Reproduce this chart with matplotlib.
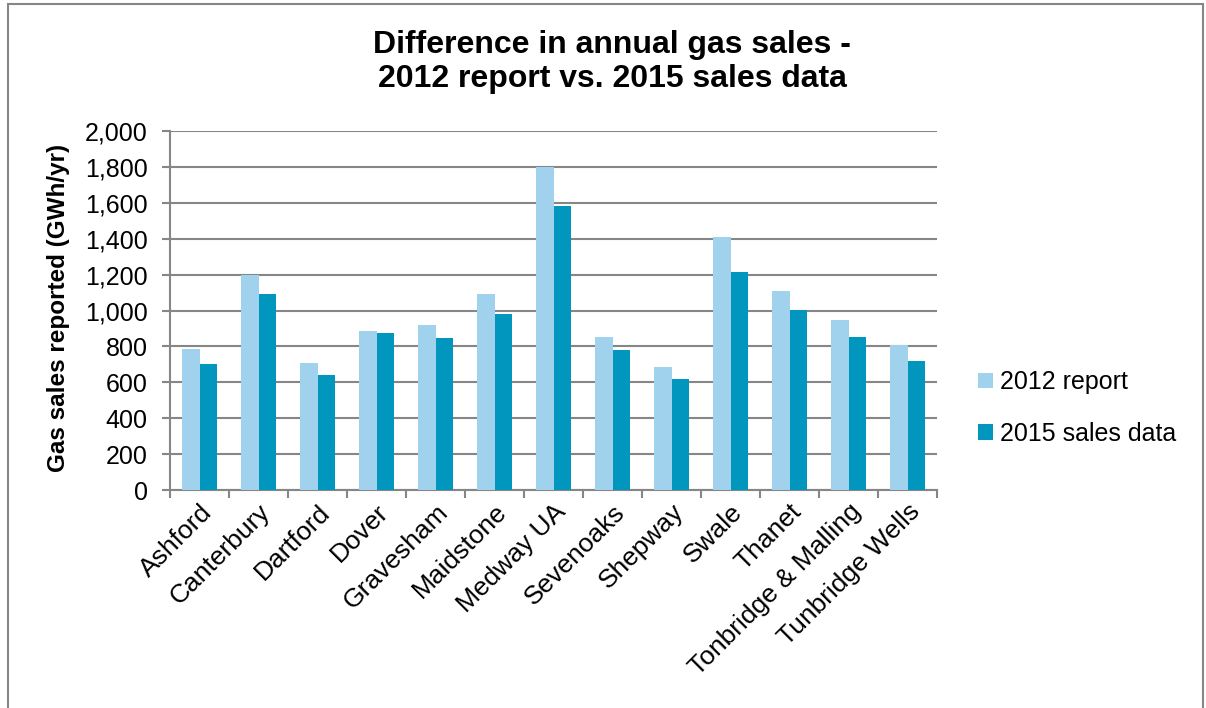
import matplotlib
matplotlib.use("Agg")
import matplotlib.pyplot as plt
import numpy as np
from matplotlib.ticker import FuncFormatter
from matplotlib.patches import Rectangle

districts = ["Ashford", "Canterbury", "Dartford", "Dover", "Gravesham", "Maidstone",
             "Medway UA", "Sevenoaks", "Shepway", "Swale", "Thanet",
             "Tonbridge & Malling", "Tunbridge Wells"]
report_2012 = [788, 1195, 710, 885, 922, 1093, 1800, 855, 686, 1412, 1110, 946, 808]
sales_2015 = [700, 1090, 638, 876, 845, 980, 1580, 779, 621, 1212, 1005, 850, 721]

plt.rcParams['font.family'] = ['Liberation Sans', 'DejaVu Sans']

fig = plt.figure(figsize=(12.06, 7.08), dpi=100)
W, H = 1206, 708
ax = fig.add_axes([170 / W, 1 - 490 / H, (937 - 170) / W, (490 - 131) / H])

# outer chart border
fig.patches.append(Rectangle((8 / W, -0.1), 1195 / W, 1.1 - 4 / H, transform=fig.transFigure,
                             fill=False, edgecolor="#868686", linewidth=1.5))

x = np.arange(len(districts))
w = 0.29
ax.bar(x - w / 2, report_2012, w, color="#a0d2ee", label="2012 report", zorder=3)
ax.bar(x + w / 2, sales_2015, w, color="#0096bd", label="2015 sales data", zorder=3)

ax.set_xlim(-0.5, len(districts) - 0.5)
ax.set_ylim(0, 2000)
ax.set_yticks(np.arange(0, 2001, 200))
ax.yaxis.set_major_formatter(FuncFormatter(lambda v, p: f"{int(v):,}"))
ax.grid(axis="y", color="#868686", linewidth=1.5, zorder=0)

ax.set_xticks(np.arange(-0.5, len(districts), 1))
ax.set_xticklabels([])
ax.set_xticks(x, minor=True)
ax.set_xticklabels(districts, minor=True, rotation=45, ha="right", rotation_mode="anchor",
                   fontsize=19)
ax.tick_params(axis="x", which="minor", length=0, pad=7)
ax.tick_params(axis="x", which="major", length=6, color="#868686", width=1.5)
ax.tick_params(axis="y", length=6, color="#868686", width=1.5, labelsize=18, pad=10)

for s in ["top", "right"]:
    ax.spines[s].set_visible(False)
for s in ["left", "bottom"]:
    ax.spines[s].set_color("#868686")
    ax.spines[s].set_linewidth(1.5)

ax.set_ylabel("Gas sales reported (GWh/yr)", fontsize=17.5, fontweight="bold")
ax.yaxis.set_label_coords(70 / W, 1 - 308 / H, transform=fig.transFigure)
fig.text(612 / W, 1 - 62 / H, "Difference in annual gas sales -\n2012 report vs. 2015 sales data",
         ha="center", va="center", fontsize=23, fontweight="bold", linespacing=1.2)

ax.legend(loc="center left", bbox_to_anchor=(955 / W, 1 - 408 / H), bbox_transform=fig.transFigure,
          frameon=False, fontsize=18, handlelength=0.6, handleheight=0.6, handletextpad=0.3,
          labelspacing=1.1)

fig.savefig("out.png", dpi=100)
